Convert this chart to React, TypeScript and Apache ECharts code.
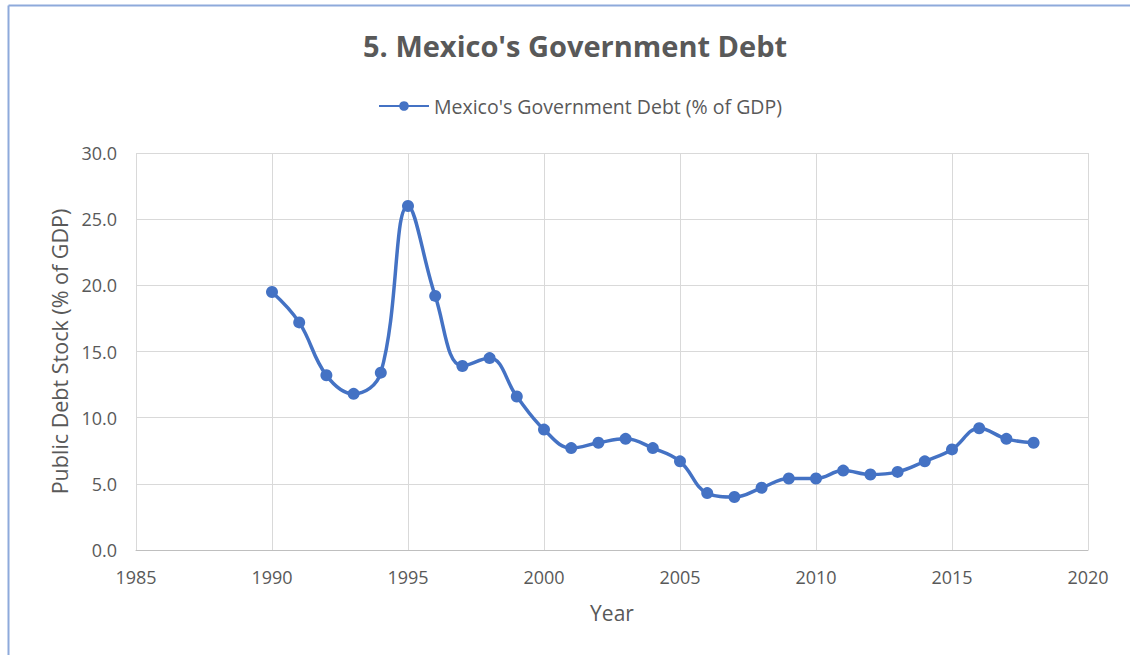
import React, { useEffect, useRef } from "react";
import * as echarts from "echarts";

const years = [1990, 1991, 1992, 1993, 1994, 1995, 1996, 1997, 1998, 1999, 2000, 2001, 2002, 2003, 2004, 2005, 2006, 2007, 2008, 2009, 2010, 2011, 2012, 2013, 2014, 2015, 2016, 2017, 2018];
const debtPctGdp = [19.5, 17.2, 13.2, 11.8, 13.4, 26.0, 19.2, 13.9, 14.5, 11.6, 9.1, 7.7, 8.1, 8.4, 7.7, 6.7, 4.3, 4.0, 4.7, 5.4, 5.4, 6.0, 5.7, 5.9, 6.7, 7.6, 9.2, 8.4, 8.1];
const seriesName = "Mexico's Government Debt (% of GDP)";
const titleText = "5. Mexico's Government Debt";
const xAxisName = "Year";
const yAxisName = "Public Debt Stock (% of GDP)";

const TEXT = "#595959";
const GRID = "#d9d9d9";
const BLUE = "#4472C4";
const FONT = "'Open Sans', 'Noto Sans', sans-serif";

export default function App() {
  const ref = useRef<HTMLDivElement>(null);
  useEffect(() => {
    if (!ref.current) return;
    const chart = echarts.init(ref.current, null, { renderer: "svg" });
    chart.setOption({
      animation: false,
      backgroundColor: "#ffffff",
      textStyle: { fontFamily: FONT },
      title: {
        text: titleText,
        left: 358,
        top: 26,
        textStyle: { color: TEXT, fontSize: 29, fontWeight: "bold", fontFamily: FONT },
      },
      legend: {
        top: 91,
        left: 373,
        itemWidth: 50,
        itemHeight: 12,
        itemGap: 4,
        textStyle: { color: TEXT, fontSize: 19.5, fontFamily: FONT },
        data: [seriesName],
      },
      grid: { left: 136, right: 42, top: 153, bottom: 105, containLabel: false },
      xAxis: {
        type: "value",
        min: 1985,
        max: 2020,
        interval: 5,
        name: xAxisName,
        nameLocation: "middle",
        nameGap: 52,
        nameTextStyle: { color: TEXT, fontSize: 21, fontFamily: FONT },
        axisLine: { show: true, lineStyle: { color: "#bfbfbf", width: 1 } },
        axisTick: { show: false },
        axisLabel: { color: TEXT, fontSize: 18, margin: 18, fontFamily: FONT, formatter: (v: number) => String(v) },
        splitLine: { show: true, lineStyle: { color: GRID, width: 1 } },
      },
      yAxis: {
        type: "value",
        min: 0,
        max: 30,
        interval: 5,
        name: yAxisName,
        nameLocation: "middle",
        nameGap: 66,
        nameTextStyle: { color: TEXT, fontSize: 21.5, fontFamily: FONT },
        axisLine: { show: false },
        axisTick: { show: false },
        axisLabel: { color: TEXT, fontSize: 18, margin: 19, fontFamily: FONT, formatter: (v: number) => v.toFixed(1) },
        splitLine: { show: true, lineStyle: { color: GRID, width: 1 } },
      },
      series: [
        {
          name: seriesName,
          type: "line",
          smooth: 0.4,
          data: years.map((y, i) => [y, debtPctGdp[i]]),
          symbol: "circle",
          symbolSize: 12,
          lineStyle: { color: BLUE, width: 3.5 },
          itemStyle: { color: BLUE },
        },
      ],
      graphic: [
        { type: "line", shape: { x1: 8.5, y1: 5.5, x2: 1130, y2: 5.5 }, style: { stroke: "#8eaadb", lineWidth: 2 } },
        { type: "line", shape: { x1: 8.5, y1: 5.5, x2: 8.5, y2: 655 }, style: { stroke: "#8eaadb", lineWidth: 2 } },
      ],
    });
    return () => chart.dispose();
  }, []);
  return <div ref={ref} style={{ position: "absolute", left: 0, top: 0, width: 1130, height: 655 }} />;
}
